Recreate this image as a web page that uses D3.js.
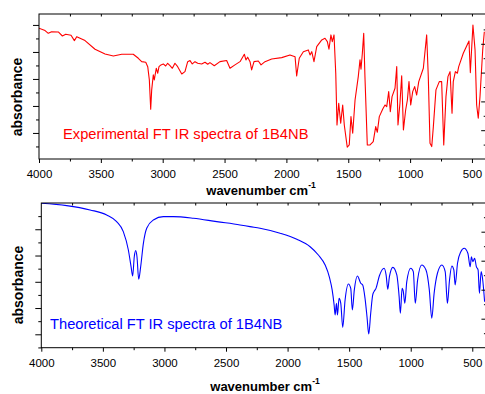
<!DOCTYPE html>
<html lang="en">
<head>
    <meta charset="UTF-8" />
    <title>FT IR spectra of 1B4NB</title>
    <script src="https://d3js.org/d3.v7.min.js"></script>
    <style>
        body {
            margin: 0;
            background: #fff;
            font-family: "Liberation Sans", Arial, sans-serif;
        }
        .frame {
            fill: none;
            stroke: #000;
            stroke-width: 1;
        }
        .tick line {
            stroke: #000;
        }
        .tick text {
            font-size: 11.5px;
            fill: #000;
        }
        .axis-title {
            font-size: 13px;
            font-weight: bold;
            fill: #000;
        }
        .note {
            font-size: 14.7px;
        }
    </style>
</head>
<body>
    <div id="chart"></div>

    <script>
        // experimental spectrum
        var expWavenumbers = [4000,3951,3925,3898,3844,3811,3784,3741,3714,3695,
            3628,3547,3466,3399,3331,3238,3197,3170,3137,3121,
            3108,3097,3089,3076,3068,3052,3040,3030,3014,2995,
            2976,2960,2941,2922,2901,2879,2846,2820,2798,2779,
            2761,2739,2717,2685,2658,2636,2618,2583,2537,2483,
            2456,2416,2375,2340,2327,2313,2294,2281,2262,2227,
            2205,2173,2119,2038,1971,1930,1917,1896,1863,1823,
            1809,1795,1777,1755,1714,1688,1669,1656,1640,1629,
            1615,1601,1591,1577,1561,1545,1532,1508,1492,1478,
            1464,1445,1419,1405,1397,1386,1375,1365,1346,1324,
            1298,1278,1265,1249,1221,1203,1189,1173,1160,1146,
            1122,1108,1098,1082,1068,1054,1036,1022,1009,995,
            979,963,947,930,893,866,853,839,825,812,
            791,764,745,728,710,694,677,661,651,634,
            618,607,570,524,513,492,475,462,449,435,
            413,400];
        var expValues = [97.6,95.8,93.8,95.0,94.8,91.8,93.1,92.4,88.4,91.3,
            88.4,82.0,78.5,77.0,78.3,78.3,75.3,72.8,72.4,69.1,
            59.3,37.6,51.9,63.0,59.3,67.9,64.2,69.1,70.4,71.1,
            69.6,71.6,69.8,67.9,71.6,69.1,63.7,65.4,72.8,73.6,
            71.1,72.8,71.6,71.1,72.4,70.9,72.1,69.8,72.8,73.6,
            67.9,70.4,72.8,78.3,74.1,76.1,72.8,66.7,72.8,73.3,
            70.4,72.8,74.8,75.8,77.8,76.5,62.2,75.3,80.2,81.5,
            77.8,80.2,72.8,83.9,88.9,90.1,87.6,82.0,92.6,87.6,
            92.6,64.2,25.9,42.0,27.2,40.7,25.9,9.4,11.1,32.1,
            19.8,44.4,61.7,74.1,67.2,79.0,93.8,61.7,11.1,11.1,
            13.6,24.7,20.5,32.1,37.8,40.7,39.5,50.6,35.8,46.9,
            53.1,69.1,25.9,42.0,62.4,22.2,37.0,44.4,58.0,40.7,
            50.6,54.3,48.1,58.0,67.9,92.6,61.7,12.4,9.9,24.7,
            51.9,58.0,58.0,11.1,46.9,61.7,65.4,34.6,58.0,65.4,
            64.2,69.1,79.0,88.1,64.7,100.0,81.5,40.7,30.9,46.9,
            81.5,95.0];

        // theoretical (computed) spectrum, bottom panel
        var theoWavenumbers = [4000,3794,3604,3469,3388,3334,3293,3271,3258,3245,
            3233,3223,3209,3193,3171,3144,3090,3009,2928,2765,
            2575,2386,2305,2224,2061,1925,1817,1750,1695,1660,
            1638,1622,1614,1603,1595,1582,1568,1552,1533,1506,
            1487,1474,1458,1433,1406,1390,1371,1355,1341,1325,
            1309,1298,1282,1255,1216,1200,1186,1173,1145,1113,
            1094,1084,1070,1060,1048,1032,1000,979,963,944,
            911,876,849,829,810,783,747,720,702,685,
            666,650,639,620,593,566,536,517,507,496,
            481,467,453,442,428,417,400];
        var theoValues = [119.8,118.0,114.7,110.9,105.8,98.2,84.2,71.5,64.4,79.1,
            83.7,79.1,61.9,71.5,89.3,100.8,107.1,109.6,109.6,108.4,
            105.8,103.3,102.0,100.8,97.0,92.4,86.7,80.4,72.8,63.4,
            53.8,42.3,34.7,43.6,34.7,47.4,43.6,25.3,46.1,58.3,
            55.0,38.5,53.8,64.4,58.9,57.6,47.4,33.4,20.2,36.0,
            49.9,52.5,55.0,64.4,70.3,65.2,54.3,63.9,71.0,65.2,
            48.6,36.0,55.0,52.5,43.6,60.1,70.3,67.7,43.6,61.4,
            72.8,69.0,53.8,32.2,51.2,66.5,72.8,67.7,43.6,61.4,
            72.0,69.0,57.6,74.1,82.9,85.5,81.7,71.5,79.1,75.3,
            77.9,71.5,69.0,51.2,67.7,62.7,44.8];

        // tick values
        var xMajorTicks = [4000, 3500, 3000, 2500, 2000, 1500, 1000, 500];
        var xMinorTicks = [3750, 3250, 2750, 2250, 1750, 1250, 750];
        var xTopTicks = [3750, 3500, 3250, 3000, 2750, 2500, 2250, 2000, 1750, 1500, 1250, 1000, 750, 500];
        var yMajorTicks = [20, 40, 60, 80, 100];
        var yMinorTicks = [10, 30, 50, 70, 90, 110];
        var rightMajorTicks = [2, 4, 6, 8];
        var rightMinorTicks = [1, 3, 5, 7, 9];

        var xTitle = "wavenumber cm";
        var yTitle = "absorbance";
        var expLabel = "Experimental FT IR spectra of 1B4NB";
        var theoLabel = "Theoretical FT IR spectra of 1B4NB";

        var w = 485;
        var h = 394;

        var svg = d3.select("#chart")
            .append("svg")
            .attr("width", w)
            .attr("height", h);

        function drawPanel(p) {
            var g = svg.append("g");

            var xScale = d3.scaleLinear()
                .domain([4000, 385])
                .range([p.left, p.left + 3615 * p.pxPerCm]);

            var yScale = d3.scaleLinear()
                .domain(p.yDomain)
                .range([p.bottom, p.top]);

            var yRight = d3.scaleLinear()
                .domain([0, (p.bottom - p.top) / p.rightStep])
                .range([p.bottom, p.top]);

            var right = xScale.range()[1];

            g.append("clipPath")
                .attr("id", p.id + "-clip")
                .append("rect")
                .attr("x", p.left)
                .attr("y", p.top)
                .attr("width", right - p.left)
                .attr("height", p.bottom - p.top);

            // spectrum line
            var data = p.wavenumbers.map(function(d, i) {
                return { wn: d, v: p.values[i] };
            });

            var line = d3.line()
                .x(function(d) { return xScale(d.wn); })
                .y(function(d) { return yScale(d.v); })
                .curve(p.curve);

            g.append("path")
                .datum(data)
                .attr("clip-path", "url(#" + p.id + "-clip)")
                .attr("fill", "none")
                .attr("stroke", p.color)
                .attr("stroke-width", 1.1)
                .attr("stroke-linejoin", "round")
                .attr("d", line);

            // bottom axis, labelled
            g.append("g")
                .attr("transform", "translate(0," + p.bottom + ")")
                .call(d3.axisBottom(xScale).tickValues(xMajorTicks).tickSize(4)
                    .tickPadding(p.labelPad).tickFormat(d3.format("d")))
                .call(function(a) { a.select(".domain").remove(); });

            g.append("g")
                .attr("transform", "translate(0," + p.bottom + ")")
                .call(d3.axisBottom(xScale).tickValues(xMinorTicks).tickSize(2.5).tickFormat(""))
                .call(function(a) { a.select(".domain").remove(); });

            // top axis, ticks inward
            g.append("g")
                .attr("transform", "translate(0," + p.top + ")")
                .call(d3.axisBottom(xScale).tickValues(xTopTicks).tickSize(2.5).tickFormat(""))
                .call(function(a) { a.select(".domain").remove(); });

            // left axis, no labels
            g.append("g")
                .attr("transform", "translate(" + p.left + ",0)")
                .call(d3.axisLeft(yScale).tickValues(yMajorTicks).tickSize(6).tickFormat(""))
                .call(function(a) { a.select(".domain").remove(); });

            g.append("g")
                .attr("transform", "translate(" + p.left + ",0)")
                .call(d3.axisLeft(yScale).tickValues(yMinorTicks.filter(function(t) {
                    return t > p.yDomain[0] && t < p.yDomain[1];
                })).tickSize(3).tickFormat(""))
                .call(function(a) { a.select(".domain").remove(); });

            // right axis, ticks inward
            g.append("g")
                .attr("transform", "translate(" + right + ",0)")
                .call(d3.axisLeft(yRight).tickValues(rightMajorTicks).tickSize(5).tickFormat(""))
                .call(function(a) { a.select(".domain").remove(); });

            g.append("g")
                .attr("transform", "translate(" + right + ",0)")
                .call(d3.axisLeft(yRight).tickValues(rightMinorTicks).tickSize(2.5).tickFormat(""))
                .call(function(a) { a.select(".domain").remove(); });

            g.selectAll(".tick text")
                .attr("font-family", "'Liberation Sans', Arial, sans-serif");

            // frame
            g.append("rect")
                .attr("class", "frame")
                .attr("x", p.left)
                .attr("y", p.top)
                .attr("width", right - p.left)
                .attr("height", p.bottom - p.top);

            // x title with superscript
            var xt = g.append("text")
                .attr("class", "axis-title")
                .attr("x", p.xTitleX)
                .attr("y", p.xTitleY)
                .attr("text-anchor", "middle");
            xt.append("tspan").text(xTitle);
            xt.append("tspan")
                .attr("dy", -7)
                .attr("font-size", "8.5px")
                .text("-1");

            // y title
            g.append("text")
                .attr("class", "axis-title")
                .style("font-size", "14px")
                .attr("text-anchor", "middle")
                .attr("transform", "translate(" + p.yTitleX + "," + p.yTitleY + ") rotate(-90)")
                .text(yTitle);

            // annotation
            g.append("text")
                .attr("class", "note")
                .attr("x", p.noteX)
                .attr("y", p.noteY)
                .attr("fill", p.color)
                .text(p.note);
        }

        drawPanel({
            id: "exp",
            left: 39, top: 14, bottom: 159,
            pxPerCm: 0.1237,
            yDomain: [0.7, 108.1],
            rightStep: 14.4,
            wavenumbers: expWavenumbers,
            values: expValues,
            curve: d3.curveLinear,
            color: "#ff0000",
            labelPad: 7,
            xTitleX: 261, xTitleY: 195,
            yTitleX: 21.5, yTitleY: 97,
            note: expLabel, noteX: 63, noteY: 139
        });

        drawPanel({
            id: "theo",
            left: 41.3, top: 203, bottom: 347.7,
            pxPerCm: 0.12314,
            yDomain: [9.8, 120],
            rightStep: 14.5,
            wavenumbers: theoWavenumbers,
            values: theoValues,
            curve: d3.curveMonotoneX,
            color: "#0000ff",
            labelPad: 7.5,
            xTitleX: 265, xTitleY: 391,
            yTitleX: 23, yTitleY: 285,
            note: theoLabel, noteX: 50, noteY: 329
        });
    </script>
</body>
</html>
